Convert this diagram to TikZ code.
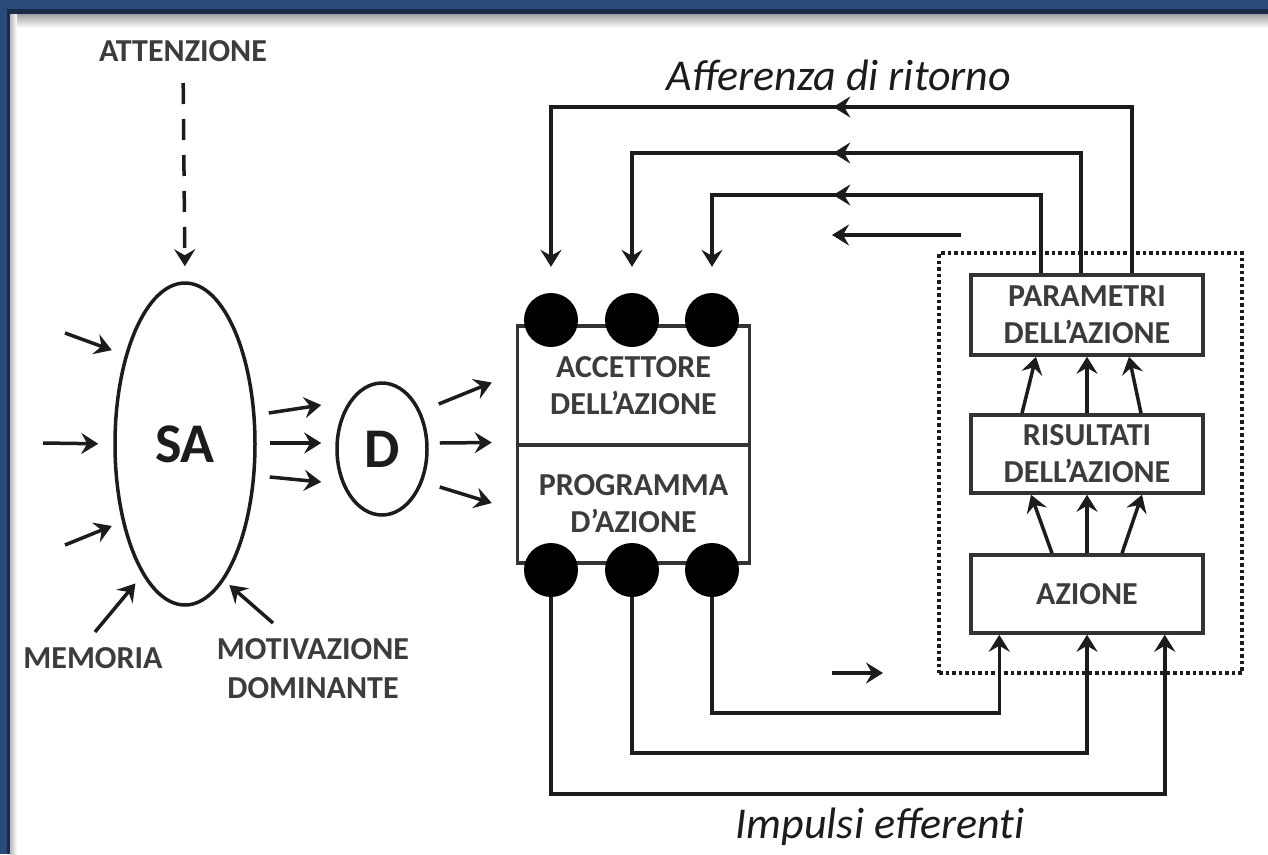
\documentclass[tikz,border=0pt]{standalone}
\usepackage{fontspec}
\setmainfont{Carlito}
\usetikzlibrary{arrows.meta,shapes.geometric,decorations.markings,calc}

\definecolor{frameblue}{HTML}{2B4A7C}
\definecolor{framedark}{HTML}{1A2B48}
\definecolor{ink}{HTML}{1C1C1C}
\definecolor{labelgray}{HTML}{3C3C3C}
\definecolor{boxline}{HTML}{333333}

\begin{document}
\begin{tikzpicture}[x=1pt,y=-1pt,
  >={Stealth[length=17pt,width=21pt,inset=6pt]},
  conn/.style={draw=ink,line width=3.5pt},
  lbl/.style={font=\bfseries\fontsize{32}{39}\selectfont,text=labelgray,align=center,inner sep=0pt},
  blk/.style={draw=boxline,line width=3.5pt,fill=white,align=center,inner sep=0pt,
    text=labelgray,font=\bfseries\fontsize{32}{37}\selectfont,minimum width=232pt},
  oval/.style={ellipse,draw=ink,line width=3.5pt,inner sep=0pt,text=ink,
    font=\bfseries\fontsize{56}{56}\selectfont},
  dot/.style={circle,fill=black,minimum size=54pt,inner sep=0pt},
  group/.style={draw=ink,line width=3.5pt,dash pattern=on 3.5pt off 3pt,
    minimum width=303pt,minimum height=420pt,inner sep=0pt},
  midarrow/.style={postaction={decorate},
    decoration={markings,mark=at position #1 with {\arrow{>}}}},
  title/.style={font=\itshape\fontsize{44}{44}\selectfont,text=ink,inner sep=0pt}
]
\useasboundingbox (0,0) rectangle (1268,854);

% window frame
\fill[white] (0,0) rectangle (1268,854);
\fill[frameblue] (0,0) rectangle (1268,10);
\fill[framedark] (0,9) rectangle (1268,14);
\shade[top color=gray!75,bottom color=white] (0,14) rectangle (1268,28);
\fill[frameblue] (0,0) rectangle (7,854);
\fill[framedark] (7,12) rectangle (10,854);
\shade[left color=gray!55,right color=white] (10,14) rectangle (17,854);

% left side: situational afferentation and dominant
\node[lbl,anchor=base] (att) at (183,61) {ATTENZIONE};
\node[oval,minimum width=140pt,minimum height=322pt] (sa) at (185,444) {SA};
\node[oval,minimum width=90pt,minimum height=132pt] (d) at (382,449) {D};
\node[lbl,anchor=base] (mem) at (93,668) {MEMORIA};
\node[lbl,anchor=base] (mot) at (313,698) {MOTIVAZIONE\\DOMINANTE};

\draw[conn,dash pattern=on 21pt off 15pt,->,shorten <=22pt,shorten >=15pt]
  (att.base) -- (sa.north);

\coordinate (in1) at (65,333);
\coordinate (in2) at (43,443);
\coordinate (in3) at (65,545);
\coordinate (in4) at (95,632);
\coordinate (in5) at (273,623);
\draw[conn,->,shorten >=14pt] (in1) -- (sa.124);
\draw[conn,->,shorten >=15pt] (in2) -- (sa.180);
\draw[conn,->,shorten >=11pt] (in3) -- (sa.231);
\draw[conn,->,shorten >=11pt] (in4) -- (sa.252);
\draw[conn,->,shorten >=7pt] (in5) -- (sa.286);

% central block: acceptor and programme
\node[blk,minimum height=119pt] (acc) at (633.5,385.5) {ACCETTORE\\DELL’AZIONE};
\node[blk,minimum height=118pt] (prog) at (633.5,504) {PROGRAMMA\\D’AZIONE};

\draw[conn,->] ($(sa.east)+(12,-31)$) -- ($(d.west)+(-14,-44)$);
\draw[conn,->] ($(sa.east)+(13,-1)$) -- ($(d.west)+(-14,-6)$);
\draw[conn,->] ($(sa.east)+(13,33)$) -- ($(d.west)+(-14,33)$);

\draw[conn,->] ($(d.east)+(10,-45)$) -- ($(acc.west)+(-24,-3)$);
\draw[conn,->] ($(d.east)+(11,-6)$) -- ($(acc.west)+(-24,57)$);
\draw[conn,->] ($(d.east)+(11,38)$) -- ($(prog.west)+(-24,-1)$);

\node[dot] (ta1) at (551,320) {};
\node[dot] (ta2) at (632,320) {};
\node[dot] (ta3) at (712,320) {};
\node[dot] (tb1) at (551,570) {};
\node[dot] (tb2) at (632,570) {};
\node[dot] (tb3) at (712,570) {};

% right side: action and its results
\node[group] (grp) at (1090.5,463) {};
\node[blk,minimum height=80pt] (par) at (1087,315) {PARAMETRI\\DELL’AZIONE};
\node[blk,minimum height=78pt] (res) at (1087,454) {RISULTATI\\DELL’AZIONE};
\node[blk,minimum height=78pt] (az) at (1087,594) {AZIONE};

\draw[conn,->] ($(az.north)+(-35,0)$) -- ($(res.south)+(-56,0)$);
\draw[conn,->] (az.north) -- (res.south);
\draw[conn,->] ($(az.north)+(35,0)$) -- ($(res.south)+(55,0)$);
\draw[conn,->] ($(res.north)+(-65,0)$) -- ($(par.south)+(-51,0)$);
\draw[conn,->] (res.north) -- (par.south);
\draw[conn,->] ($(res.north)+(54,0)$) -- ($(par.south)+(42,0)$);

% return afferentation
\node[title,anchor=base] (aff) at (839,90) {Afferenza di ritorno};
\coordinate (f1) at (ta1 |- 0,107);
\coordinate (f2) at (ta2 |- 0,153);
\coordinate (f3) at (ta3 |- 0,195);
\draw[conn,->,shorten >=26pt,midarrow=465pt] ($(par.north)+(45,0)$) |- (f1) -- (ta1.north);
\draw[conn,->,shorten >=26pt,midarrow=368pt] ($(par.north)+(-6,0)$) |- (f2) -- (ta2.north);
\draw[conn,->,shorten >=26pt,midarrow=286pt] ($(par.north)+(-46,0)$) |- (f3) -- (ta3.north);
\coordinate (r4s) at (961,235);
\coordinate (r4e) at (832,235);
\draw[conn,->] (r4s) -- (r4e);

% efferent impulses
\node[title,anchor=base] (imp) at (880,838) {Impulsi efferent\kern0pt i};
\coordinate (a1) at ($(az.south west)+(30,0)$);
\coordinate (a2) at (az.south);
\coordinate (a3) at ($(az.south east)+(-40,0)$);
\draw[conn,->] (tb3.south) |- (a1 |- 0,713) -- (a1);
\draw[conn,->] (tb2.south) |- (a2 |- 0,753) -- (a2);
\draw[conn,->] (tb1.south) |- (a3 |- 0,794) -- (a3);
\coordinate (e4s) at (832,673);
\coordinate (e4e) at (883,673);
\draw[conn,->] (e4s) -- (e4e);
\end{tikzpicture}
\end{document}
